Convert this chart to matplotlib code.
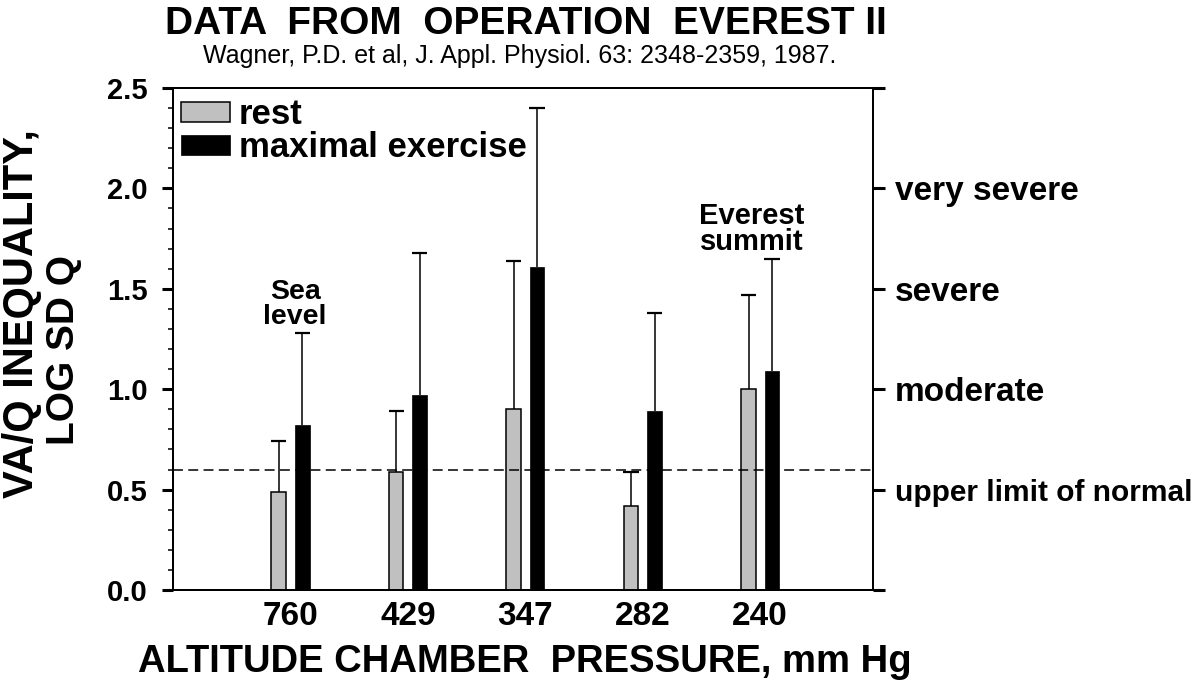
import matplotlib
matplotlib.use('Agg')
import matplotlib.pyplot as plt
import numpy as np
from matplotlib.ticker import MultipleLocator

# ---- data ----
pressures = ['760', '429', '347', '282', '240']
rest_mean = [0.49, 0.59, 0.90, 0.42, 1.00]
rest_sd = [0.25, 0.30, 0.74, 0.17, 0.47]
exercise_mean = [0.82, 0.97, 1.61, 0.89, 1.09]
exercise_sd = [0.46, 0.71, 0.79, 0.49, 0.56]
normal_limit = 0.6
left_ticks = [0.0, 0.5, 1.0, 1.5, 2.0, 2.5]
left_labels = ['0.0', '0.5', '1.0', '1.5', '2.0', '2.5']
severity_labels = ['', 'upper limit of normal', 'moderate', 'severe', 'very severe', '']
series_labels = ['rest', 'maximal exercise']

plt.rcParams['font.family'] = ['Liberation Sans', 'DejaVu Sans']
plt.rcParams['font.weight'] = 'bold'

fig = plt.figure(figsize=(12, 6.81), dpi=100)
ax = fig.add_axes([173 / 1200, 1 - 590 / 681, 700 / 1200, 502 / 681])

x = np.arange(1, len(pressures) + 1)
off = 0.1
w = 0.125
ax.bar(x - off, rest_mean, w, color='#c0c0c0', edgecolor='black',
       linewidth=1.1, label=series_labels[0], zorder=2)
ax.bar(x + off, exercise_mean, w, color='black', edgecolor='black',
       linewidth=0.5, label=series_labels[1], zorder=2)

for xs, m, s in [(x - off, rest_mean, rest_sd), (x + off, exercise_mean, exercise_sd)]:
    m = np.asarray(m)
    s = np.asarray(s)
    ax.vlines(xs, m, m + s, color='black', lw=1.1, zorder=1)
    ax.hlines(m + s, xs - 0.065, xs + 0.065, color='black', lw=1.6, zorder=1)

ax.axhline(normal_limit, color='black', lw=1.1, linestyle=(0, (6.5, 3.5)), zorder=3)

ax.set_xlim(0, 5.96)
ax.set_ylim(0, 2.5)
ax.set_xticks(x)
ax.set_xticklabels(pressures, fontsize=24)
ax.tick_params(axis='x', length=0, pad=8)
ax.set_yticks(left_ticks)
ax.set_yticklabels(left_labels, fontsize=21)
ax.yaxis.set_minor_locator(MultipleLocator(0.1))
ax.tick_params(axis='y', which='major', direction='out', length=8, width=2.2, pad=10)
ax.tick_params(axis='y', which='minor', direction='out', length=3.6, width=1.1)
for sp in ax.spines.values():
    sp.set_linewidth(1.4)

ax2 = ax.twinx()
ax2.set_ylim(0, 2.5)
ax2.set_yticks(left_ticks)
ax2.set_yticklabels(severity_labels, fontsize=24)
ax2.tick_params(axis='y', direction='out', length=8.6, width=2.2, pad=7)
for lab in ax2.get_yticklabels():
    if lab.get_text() == severity_labels[1]:
        lab.set_fontsize(21.5)
for sp in ax2.spines.values():
    sp.set_linewidth(1.4)

leg = ax.legend(loc='upper left', bbox_to_anchor=(0.012, 0.98), frameon=False,
                prop={'size': 25, 'weight': 'bold'}, handlelength=1.4,
                handleheight=0.5, handletextpad=0.25, labelspacing=0.0,
                borderpad=0, borderaxespad=0)

ax.text(1.04, 1.55, 'Sea\nlevel', ha='center', va='top', fontsize=20.5, linespacing=0.95)
ax.text(4.93, 1.93, 'Everest\nsummit', ha='center', va='top', fontsize=21, linespacing=0.9)

fig.text(526 / 1200, 1 - 34 / 681, 'DATA  FROM  OPERATION  EVEREST II',
         ha='center', va='baseline', fontsize=28)
fig.text(520 / 1200, 1 - 63 / 681,
         'Wagner, P.D. et al, J. Appl. Physiol. 63: 2348-2359, 1987.',
         ha='center', va='baseline', fontsize=18, fontweight='normal')
fig.text(22 / 1200, 1 - 314 / 681, 'VA/Q INEQUALITY,', rotation=90,
         ha='center', va='center', fontsize=30)
fig.text(64 / 1200, 1 - 350 / 681, 'LOG SD Q', rotation=90,
         ha='center', va='center', fontsize=28)
fig.text(525 / 1200, 1 - 672 / 681, 'ALTITUDE CHAMBER  PRESSURE, mm Hg',
         ha='center', va='baseline', fontsize=27.5)

fig.savefig('out.png', dpi=100)
